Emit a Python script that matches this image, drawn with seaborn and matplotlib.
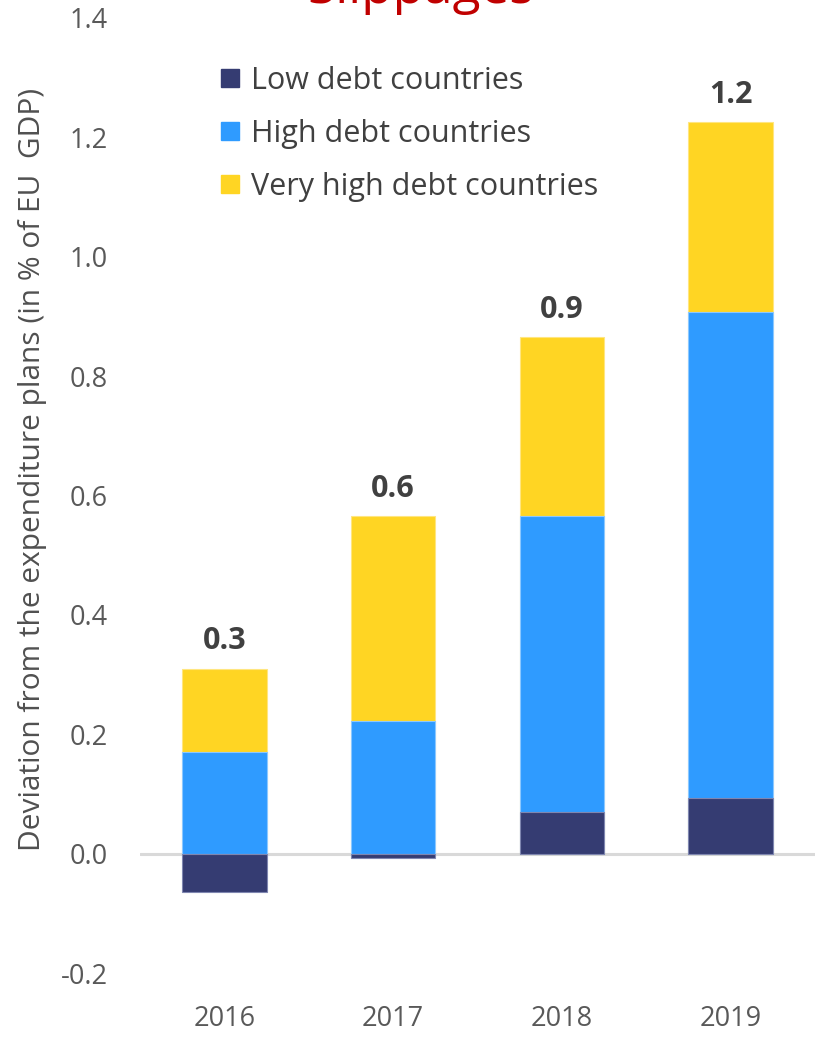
import numpy as np
import pandas as pd
import matplotlib
matplotlib.use("Agg")
import matplotlib.pyplot as plt
from matplotlib.lines import Line2D
import seaborn as sns

years = ["2016", "2017", "2018", "2019"]
low_debt = [-0.064, -0.007, 0.069, 0.094]
high_debt = [0.171, 0.223, 0.496, 0.813]
very_high_debt = [0.139, 0.342, 0.300, 0.318]
total_labels = ["0.3", "0.6", "0.9", "1.2"]
yticks = [-0.2, 0.0, 0.2, 0.4, 0.6, 0.8, 1.0, 1.2, 1.4]

c_low = "#353C72"
c_high = "#2F9BFF"
c_vhigh = "#FFD523"
txt = "#404040"
tick_c = "#595959"

sns.set_theme(style="white")
plt.rcParams['font.family'] = ['Open Sans', 'DejaVu Sans']

low = np.array(low_debt)
high = np.array(high_debt)
vh = np.array(very_high_debt)
pos_low = np.clip(low, 0, None)
cum_high = pos_low + high
cum_vh = cum_high + vh

df = pd.DataFrame({"year": years, "low": low, "cum_high": cum_high, "cum_vh": cum_vh})

W, H = 817, 1038
fig = plt.figure(figsize=(W / 100, H / 100), dpi=100)
ax = fig.add_axes([140 / W, (H - 973) / H, (815 - 140) / W, (973 - 18) / H])

sns.barplot(data=df, x="year", y="cum_vh", color=c_vhigh, saturation=1, width=0.5,
            edgecolor="#FFE680", linewidth=0.8, ax=ax)
sns.barplot(data=df, x="year", y="cum_high", color=c_high, saturation=1, width=0.5,
            edgecolor="#8CC8FF", linewidth=0.8, ax=ax)
sns.barplot(data=df, x="year", y="low", color=c_low, saturation=1, width=0.5,
            edgecolor="#7F86B0", linewidth=0.8, ax=ax)

ax.axhline(0, color="#D9D9D9", lw=2.2, zorder=0.5)

for i, (lab, top) in enumerate(zip(total_labels, cum_vh)):
    ax.annotate(lab, (i, top), xytext=(0, 14), textcoords="offset points",
                ha="center", va="baseline", fontsize=22, fontweight="bold", color=txt)

ax.set_ylim(-0.2, 1.4)
ax.set_xlim(-0.5, 3.5)
ax.set_yticks(yticks)
ax.set_yticklabels([f"{v:.1f}" for v in yticks], fontsize=19.5, color=tick_c)
ax.tick_params(axis="x", labelsize=19.5, colors=tick_c, length=0, pad=23)
ax.tick_params(axis="y", length=0, pad=23)
ax.set_xlabel("")
ax.set_ylabel("Deviation from the expenditure plans (in % of EU  GDP)", fontsize=21.5,
              color="#505050")
ax.yaxis.set_label_coords(-0.138, 0.527)
for s in ax.spines.values():
    s.set_visible(False)
ax.grid(False)

handles = [Line2D([0], [0], marker="s", linestyle="", markersize=13.5, markerfacecolor=c,
                  markeredgecolor=c) for c in (c_low, c_high, c_vhigh)]
leg = fig.legend(handles, ["Low debt countries", "High debt countries", "Very high debt countries"],
                 loc="upper left", bbox_to_anchor=(219 / W, 1 - 66 / H), frameon=False,
                 fontsize=22, labelcolor=txt, handlelength=0.7, handletextpad=0.35,
                 labelspacing=0.75, borderaxespad=0, borderpad=0)

fig.text(0.515, 1 - 3 / H, "Slippages", ha="center", va="baseline", fontsize=37, color="#C00000")

fig.savefig("out.png", dpi=100)
